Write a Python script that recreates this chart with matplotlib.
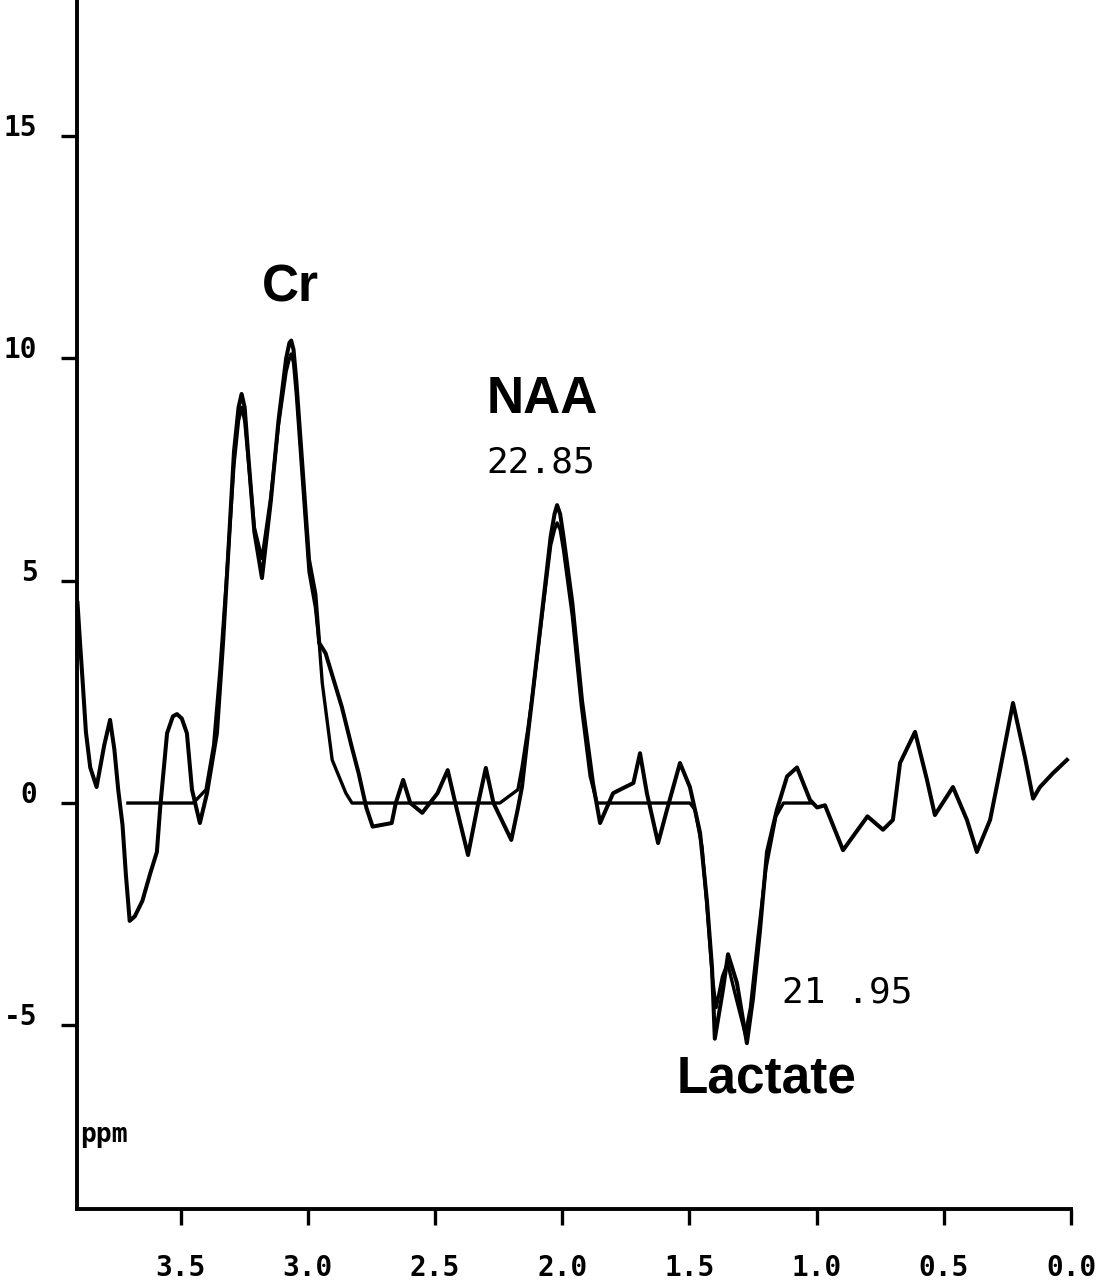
import matplotlib
matplotlib.use("Agg")
import matplotlib.pyplot as plt

# ---- data (ppm, signal) ----
obs_ppm = [3.905, 3.895, 3.885, 3.872, 3.855, 3.83, 3.80, 3.777, 3.76, 3.745,
           3.728, 3.715, 3.70, 3.68, 3.65, 3.62, 3.593, 3.58, 3.553, 3.53, 3.514,
           3.495, 3.475, 3.455, 3.424, 3.396, 3.357, 3.333, 3.314, 3.29, 3.272, 3.26,
           3.248, 3.235, 3.21, 3.18, 3.145, 3.115, 3.085, 3.072, 3.065, 3.056,
           3.045, 3.02, 2.995, 2.97, 2.955, 2.93, 2.866, 2.827, 2.80, 2.77,
           2.745, 2.67, 2.654, 2.625, 2.597, 2.55, 2.49, 2.45, 2.42, 2.37,
           2.33, 2.30, 2.27, 2.20, 2.175, 2.158, 2.134, 2.119, 2.075, 2.045,
           2.03, 2.02, 2.008, 1.995, 1.96, 1.922, 1.879, 1.851, 1.80, 1.773,
           1.72, 1.694, 1.667, 1.623, 1.588, 1.537, 1.498, 1.478, 1.458, 1.431,
           1.411, 1.40, 1.368, 1.348, 1.313, 1.274, 1.25, 1.223, 1.195, 1.156,
           1.116, 1.077, 1.026, 0.998, 0.967, 0.896, 0.80, 0.739, 0.70, 0.672,
           0.613, 0.566, 0.535, 0.464, 0.409, 0.37, 0.318, 0.279, 0.228, 0.181,
           0.149, 0.122, 0.071, 0.016]
obs_val = [4.5, 3.6, 2.75, 1.6, 0.8, 0.36, 1.3, 1.87, 1.2, 0.3,
           -0.5, -1.6, -2.65, -2.55, -2.2, -1.6, -1.1, -0.1, 1.57, 1.95, 2.0,
           1.9, 1.57, 0.3, -0.45, 0.22, 1.57, 3.6, 5.47, 7.9, 8.9, 9.2,
           8.9, 7.9, 6.1, 5.06, 6.8, 8.6, 10.0, 10.35, 10.4, 10.2,
           9.5, 7.5, 5.47, 4.7, 3.6, 3.37, 2.16, 1.26, 0.67, -0.1,
           -0.53, -0.45, 0.0, 0.52, 0.0, -0.22, 0.22, 0.74, 0.0, -1.17,
           0.0, 0.79, 0.0, -0.83, -0.15, 0.36, 1.57, 2.3, 4.5, 6.0,
           6.5, 6.7, 6.5, 6.0, 4.5, 2.3, 0.45, -0.45, 0.22, 0.3,
           0.45, 1.12, 0.22, -0.9, -0.15, 0.9, 0.36, -0.15, -0.67, -2.2,
           -3.7, -5.3, -4.2, -3.4, -4.05, -5.4, -4.4, -2.9, -1.1, -0.15,
           0.6, 0.8, 0.07, -0.1, -0.05, -1.06, -0.3, -0.6, -0.38, 0.9,
           1.6, 0.52, -0.27, 0.36, -0.38, -1.1, -0.38, 0.74, 2.25, 1.03,
           0.1, 0.36, 0.67, 0.97]

fit_ppm = [3.707, 3.45, 3.40, 3.37, 3.345, 3.32, 3.29, 3.272, 3.26, 3.248,
           3.235, 3.21, 3.18, 3.145, 3.115, 3.085, 3.072, 3.065, 3.056, 3.045,
           3.02, 2.995, 2.97, 2.955, 2.943, 2.904, 2.85, 2.826, 2.245, 2.174,
           2.158, 2.134, 2.115, 2.075, 2.045, 2.03, 2.02, 2.008, 1.995, 1.96,
           1.925, 1.89, 1.863, 1.498, 1.478, 1.45, 1.43, 1.41, 1.395, 1.37,
           1.35, 1.32, 1.28, 1.26, 1.23, 1.20, 1.16, 1.13, 1.02]
fit_val = [0.0, 0.0, 0.3, 1.3, 3.0, 5.0, 7.6, 8.6, 8.9, 8.6,
           7.8, 6.2, 5.5, 6.9, 8.5, 9.7, 10.0, 10.1, 9.9, 9.2,
           7.2, 5.2, 4.4, 3.6, 2.7, 0.97, 0.22, 0.0, 0.0, 0.3,
           0.8, 1.7, 2.5, 4.4, 5.8, 6.15, 6.3, 6.15, 5.7, 4.2,
           2.2, 0.6, 0.0, 0.0, -0.15, -1.0, -2.4, -3.9, -4.6, -3.9,
           -3.6, -4.3, -5.2, -4.6, -3.0, -1.5, -0.3, 0.0, 0.0]

x_ticks = [3.5, 3.0, 2.5, 2.0, 1.5, 1.0, 0.5, 0.0]
x_labels = ["3.5", "3.0", "2.5", "2.0", "1.5", "1.0", "0.5", "0.0"]
y_ticks = [-5, 0, 5, 10, 15]
y_labels = ["-5", "0", "5", "10", "15"]

W, H = 1100, 1280
fig = plt.figure(figsize=(W / 100, H / 100), dpi=100)
ax = fig.add_axes([77 / W, 71 / H, (1071 - 77) / W, 1209 / H])

ax.plot(fit_ppm, fit_val, color="black", lw=2.4, solid_joinstyle="round")
ax.plot(obs_ppm, obs_val, color="black", lw=2.9, solid_joinstyle="round")

ax.set_xlim(3.907, 0.0)
ax.set_ylim(-9.13, 18.06)

for s in ["top", "right"]:
    ax.spines[s].set_visible(False)
for s in ["left", "bottom"]:
    ax.spines[s].set_linewidth(2.8)

ax.set_xticks(x_ticks)
ax.set_xticklabels(x_labels)
ax.set_yticks(y_ticks)
ax.set_yticklabels(y_labels)
ax.tick_params(axis="both", direction="out", length=11.5, width=2.4, color="black")
ax.tick_params(axis="x", pad=21)
ax.tick_params(axis="y", pad=17)
for lab in ax.get_xticklabels() + ax.get_yticklabels():
    lab.set_fontfamily("DejaVu Sans Mono")
    lab.set_fontweight("bold")
    lab.set_fontsize(20)
for lab in ax.get_yticklabels():
    lab.set_va("baseline")

lab_font = dict(family="Liberation Sans", weight="bold", size=37)
num_font = dict(family="DejaVu Sans Mono", size=26)
ax.text(3.07, 11.27, "Cr", ha="center", va="baseline", **lab_font)
ax.text(2.296, 8.77, "NAA", ha="left", va="baseline", **lab_font)
ax.text(2.296, 7.44, "22.85", ha="left", va="baseline", **num_font)
ax.text(1.136, -4.48, "21 .95", ha="left", va="baseline", **num_font)
ax.text(1.549, -6.52, "Lactate", ha="left", va="baseline", **lab_font)
ax.text(3.895, -7.47, "ppm", ha="left", va="center",
        family="DejaVu Sans Mono", weight="bold", size=19)

fig.savefig("out.png", dpi=100, facecolor="white")
